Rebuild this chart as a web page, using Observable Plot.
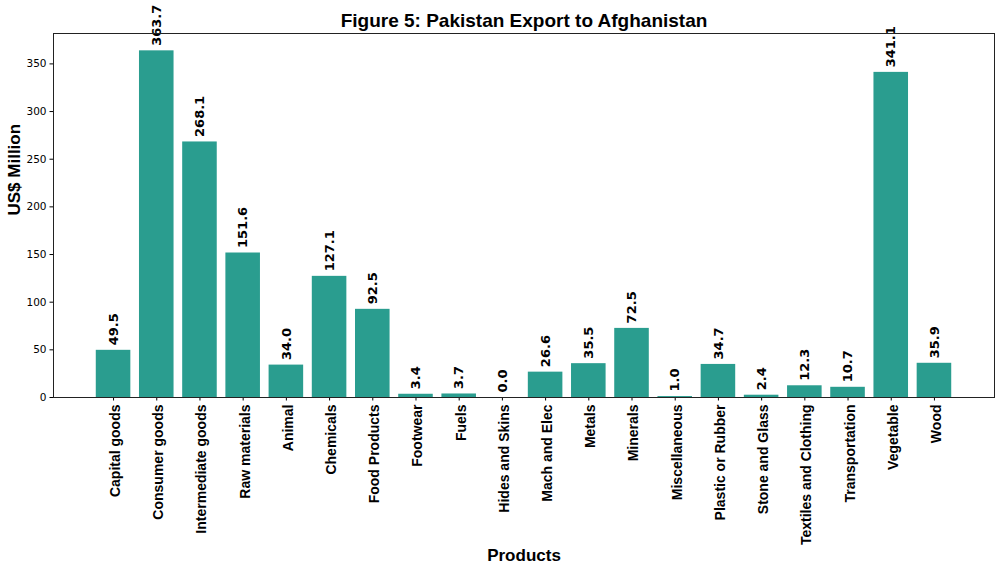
<!DOCTYPE html>
<html>
<head>
<meta charset="utf-8">
<script src="https://cdn.jsdelivr.net/npm/d3@7"></script>
<script src="https://cdn.jsdelivr.net/npm/@observablehq/plot@0.6"></script>
<style>
  html, body { margin: 0; padding: 0; background: #fff; }
  #chart svg { display: block; }
</style>
</head>
<body>
<div id="chart"></div>
<script>
const categories = ["Capital goods", "Consumer goods", "Intermediate goods", "Raw materials", "Animal", "Chemicals", "Food Products", "Footwear", "Fuels", "Hides and Skins", "Mach and Elec", "Metals", "Minerals", "Miscellaneous", "Plastic or Rubber", "Stone and Glass", "Textiles and Clothing", "Transportation", "Vegetable", "Wood"];
const values = [49.5, 363.7, 268.1, 151.6, 34.0, 127.1, 92.5, 3.4, 3.7, 0.0, 26.6, 35.5, 72.5, 1.0, 34.7, 2.4, 12.3, 10.7, 341.1, 35.9];
const yTicks = [0, 50, 100, 150, 200, 250, 300, 350];
const titleText = "Figure 5: Pakistan Export to Afghanistan";
const yLabel = "US$ Million";
const xLabel = "Products";

const data = categories.map((c, i) => ({category: c, value: values[i]}));
const maxV = d3.max(values);

const chart = Plot.plot({
  width: 1000,
  height: 571,
  marginLeft: 53,
  marginRight: 6,
  marginTop: 33,
  marginBottom: 174,
  style: {background: "#fff"},
  x: {domain: categories, paddingInner: 0.2, paddingOuter: 0.99, round: false, label: null},
  y: {domain: [0, maxV * 1.05], label: null},
  marks: [
    Plot.barY(data, {x: "category", y: "value", fill: "#2a9d8f"}),
    Plot.text(data, {
      x: "category", y: "value", text: d => d.value.toFixed(1),
      rotate: -90, textAnchor: "start", lineAnchor: "middle", dy: -5,
      fontSize: 13, fontWeight: "bold", fontFamily: "DejaVu Sans", fill: "black"
    }),
    Plot.axisY({ticks: yTicks, tickSize: 3.5, tickPadding: 3.5, fontSize: 10.5, fontFamily: "DejaVu Sans", label: null, color: "black"}),
    Plot.axisX({tickSize: 3.5, text: null, label: null, color: "black"}),
    Plot.axisX({tickRotate: -90, tickSize: 0, tickPadding: 7, dx: 2, fontSize: 14, fontWeight: "bold", fontFamily: "Liberation Sans", label: null, color: "black"}),
    Plot.frame({stroke: "#222", strokeWidth: 1}),
    Plot.text([titleText], {frameAnchor: "top", lineAnchor: "middle", dy: -13, fontSize: 19, fontWeight: "bold", fontFamily: "Liberation Sans", fill: "black"}),
    Plot.text([yLabel], {frameAnchor: "left", lineAnchor: "middle", dx: -39, rotate: -90, fontSize: 17, fontWeight: "bold", fontFamily: "Liberation Sans", fill: "black"}),
    Plot.text([xLabel], {frameAnchor: "bottom", lineAnchor: "middle", dy: 158, fontSize: 17, fontWeight: "bold", fontFamily: "Liberation Sans", fill: "black"})
  ]
});
document.getElementById("chart").appendChild(chart);
</script>
</body>
</html>
